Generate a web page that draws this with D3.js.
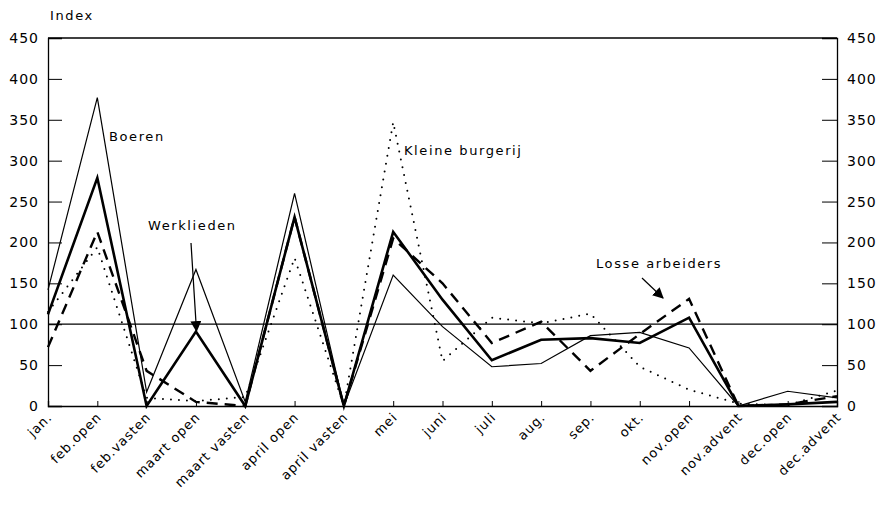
<!DOCTYPE html>
<html><head><meta charset="utf-8">
<script src="https://cdn.jsdelivr.net/npm/d3@7"></script>
<style>
body{margin:0;background:#fff;}
text{font-family:"DejaVu Sans",sans-serif;fill:#000;}
</style></head>
<body><svg id="c" width="882" height="506"></svg>
<script>
const categories = ["jan.","feb.open","feb.vasten","maart open","maart vasten","april open","april vasten","mei","juni","juli","aug.","sep.","okt.","nov.open","nov.advent","dec.open","dec.advent"];
const boeren          = [142,377,17,167,5,260,0,160,97,48,52,86,90,71,0,18,10];
const werklieden      = [112,279,0,91,0,231,0,213,130,56,81,83,77,108,0,2,5];
const kleineBurgerij  = [115,194,10,6,11,181,0,347,55,108,101,113,48,20,3,1,19];
const losseArbeiders  = [72,213,43,5,0,231,0,205,150,77,103,43,88,131,0,2,12];
const yTicks = [0,50,100,150,200,250,300,350,400,450];

const svg = d3.select("#c");
const L=48, R=837, T=38, B=406;
const x = d3.scalePoint().domain(categories).range([L,R]);
const y = d3.scaleLinear().domain([0,450]).range([B,T]);

const g = svg.append("g");
g.append("line").attr("x1",L).attr("x2",R).attr("y1",T).attr("y2",T).attr("stroke","#000").attr("stroke-width",1.3);

const la = g.append("g").attr("transform",`translate(${L},0)`)
  .call(d3.axisLeft(y).tickValues(yTicks).tickSize(-14).tickFormat(d3.format("d")));
const ra = g.append("g").attr("transform",`translate(${R},0)`)
  .call(d3.axisRight(y).tickValues(yTicks).tickSize(-15).tickFormat(d3.format("d")));
const ba = g.append("g").attr("transform",`translate(0,${B})`)
  .call(d3.axisBottom(x).tickSize(-5).tickFormat(""));
[la,ra,ba].forEach(a=>{
  a.select(".domain").attr("stroke","#000").attr("stroke-width",1.3);
  a.selectAll(".tick line").attr("stroke","#000").attr("stroke-width",1);
  a.selectAll("text").style("font-size","14px").style("letter-spacing","1px");
});
la.selectAll(".tick").filter(d=>d===0||d===450).select("line").remove();
ra.selectAll(".tick").filter(d=>d===0||d===450).select("line").remove();
la.selectAll("text").attr("x",-9).attr("text-anchor","end");
ra.selectAll("text").attr("x",10).attr("text-anchor","start");
ba.selectAll(".tick").filter((d,i)=>i===0||i===categories.length-1).select("line").remove();

// rotated category labels
const xl = svg.append("g");
categories.forEach(c=>{
  xl.append("text")
    .attr("transform",`translate(${x(c)+5},${B+12}) rotate(-45)`)
    .attr("text-anchor","end")
    .style("font-size","13px").style("letter-spacing","1px")
    .text(c);
});

g.append("line").attr("x1",L).attr("x2",R).attr("y1",y(100)).attr("y2",y(100)).attr("stroke","#000").attr("stroke-width",1.2);

const line = d3.line().x((d,i)=>x(categories[i])).y(d=>y(d));
const series = [
  {v:boeren, w:1.2, dash:null, cap:"butt"},
  {v:werklieden, w:2.6, dash:null, cap:"butt"},
  {v:kleineBurgerij, w:2, dash:"0,8", cap:"round"},
  {v:losseArbeiders, w:2.4, dash:"11,7", cap:"butt"}
];
series.forEach(s=>{
  g.append("path").datum(s.v).attr("d",line).attr("fill","none")
   .attr("stroke","#000").attr("stroke-width",s.w)
   .attr("stroke-linejoin","miter").attr("stroke-linecap",s.cap)
   .attr("stroke-dasharray",s.dash);
});

svg.append("defs").append("marker").attr("id","ah").attr("viewBox","0 0 10 10")
  .attr("refX",9).attr("refY",5).attr("markerWidth",11).attr("markerHeight",11).attr("markerUnits","userSpaceOnUse")
  .attr("orient","auto").append("path").attr("d","M0,0 L10,5 L0,10 Z").attr("fill","#000");

const ann = (t,xx,yy)=>svg.append("text").attr("x",xx).attr("y",yy).text(t)
  .style("font-size","13px").style("letter-spacing","1.6px");
ann("Index",50,20);
ann("Boeren",109,141);
ann("Werklieden",148,230);
ann("Kleine burgerij",404,155);
ann("Losse arbeiders",596,268);

svg.append("line").attr("x1",191).attr("y1",243).attr("x2",196.5).attr("y2",331).attr("stroke","#000").attr("stroke-width",1.2).attr("marker-end","url(#ah)");
svg.append("line").attr("x1",642).attr("y1",278).attr("x2",663).attr("y2",298).attr("stroke","#000").attr("stroke-width",1.2).attr("marker-end","url(#ah)");
</script></body></html>
